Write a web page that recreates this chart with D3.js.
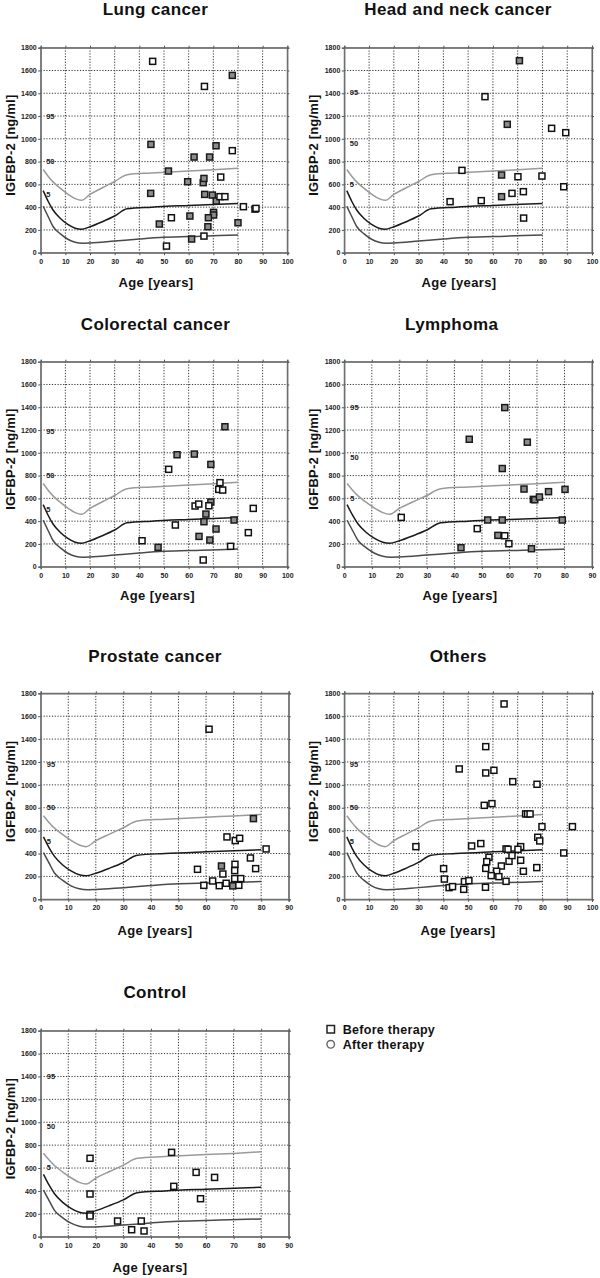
<!DOCTYPE html>
<html><head><meta charset="utf-8">
<script src="https://cdn.jsdelivr.net/npm/d3@7"></script>
<style>
html,body{margin:0;padding:0;background:#fff;}
svg{display:block;font-family:"Liberation Sans",Arial,sans-serif;}
</style></head>
<body><svg id="c" width="600" height="1278"></svg>
<script>
// ---------- data ----------
const yTicks = [0,200,400,600,800,1000,1200,1400,1600,1800];
const xTicks100 = [0,10,20,30,40,50,60,70,80,90,100];
const xTicks90 = [0,10,20,30,40,50,60,70,80,90];

// reference percentile curves [age, IGFBP-2]
const p95 = [[1,730],[3,672],[5,622],[8,565],[11,515],[14,475],[16.5,460],[20,512],[25,570],[30,625],[35,685],[45,700],[60,718],[70,728],[80,742]];
const p50 = [[1,545],[3,452],[5,375],[8,300],[11,248],[14,214],[16.5,205],[20,228],[25,272],[30,322],[35,385],[45,400],[60,415],[80,432]];
const p5  = [[1,408],[3,318],[5,230],[8,165],[11,118],[14,92],[17,84],[20,85],[30,102],[40,120],[50,135],[65,145],[80,155]];
const pctNames = ["95","50","5"];

// curve label heights per panel [95, 50, 5]
const lungLab = [1195,805,510];
const headLab = [1405,960,603];
const colorectalLab = [1185,800,503];
const lymphomaLab = [1400,957,600];
const prostateLab = [1183,801,504];
const othersLab = [1183,801,504];
const controlLab = [1401,961,603];

// observations [age, IGFBP-2 ng/ml]
const lungBefore = [[45.4,1680],[66.4,1460],[77.7,896],[73.0,664],[72.7,492],[74.7,492],[82.2,404],[86.9,383],[87.3,389],[53,307],[66.2,146],[51,58]];
const lungAfter = [[77.7,1557],[44.7,951],[71.1,939],[62.2,840],[68.5,840],[51.8,717],[59.6,623],[65.9,615],[66.2,652],[44.6,521],[66.5,512],[69.6,506],[71.2,454],[70.1,354],[70.1,331],[60.5,322],[68,307],[67.8,228],[48.1,252],[80,263],[61.2,120]];

const headBefore = [[47.5,723],[56.8,1370],[83.7,1092],[89.4,1054],[70.1,667],[79.8,673],[88.6,579],[67.7,521],[72.3,536],[42.7,448],[55.3,457],[72.4,304]];
const headAfter = [[70.7,1686],[65.8,1127],[63.5,682],[63.5,492]];

const colorectalBefore = [[51.9,855],[72.7,738],[72.2,679],[73.8,673],[62.6,533],[64.1,550],[68.2,535],[54.6,366],[86.2,512],[84.2,299],[41.1,228],[77,179],[65.9,59]];
const colorectalAfter = [[74.7,1229],[55.3,983],[62.3,989],[69,898],[69,568],[67,462],[66.2,395],[78.4,410],[71.1,331],[64.2,266],[68.6,234],[47.6,170]];

const lymphomaBefore = [[20.7,433],[48.3,334],[58.3,272],[59.8,202]];
const lymphomaAfter = [[58.3,1397],[45.4,1119],[66.5,1093],[57.4,862],[65.3,682],[68.7,591],[69.2,588],[70.9,612],[74.2,659],[80.2,679],[52.1,410],[57.4,410],[79.2,410],[55.8,275],[42.4,167],[68,158]];

const prostateBefore = [[61.1,1486],[67.6,545],[70.6,513],[72.2,533],[81.8,440],[76.1,361],[56.9,262],[78,268],[70.5,306],[70.4,251],[66.1,221],[70.4,181],[72.6,181],[62.4,160],[59.2,122],[64.8,119],[67.3,140],[71.9,122]];
const prostateAfter = [[77.2,705],[65.6,291],[69.7,117]];

const othersBefore = [[64.5,1707],[57.1,1334],[46.4,1139],[57.1,1104],[60.4,1127],[68,1028],[77.8,1005],[56.5,821],[59.6,836],[73.2,746],[74,746],[75,746],[79.8,635],[92.1,635],[78.1,542],[78.9,510],[28.9,460],[51.4,466],[55.1,487],[71.2,460],[70.1,437],[65.3,440],[66.1,437],[58.4,367],[57.5,329],[88.6,405],[71.2,341],[66.5,332],[67.7,382],[63.4,291],[40.1,268],[57.1,270],[72.3,245],[77.7,277],[61.5,245],[59.3,207],[62.4,198],[40.4,177],[48.5,155],[50.3,163],[65.3,157],[42.3,102],[43.7,111],[48.2,87],[57,105]];
const othersAfter = [];

const controlBefore = [[17.9,685],[17.9,373],[17.9,195],[17.9,181],[27.9,137],[33,61],[36.5,137],[37.5,50],[47.5,737],[48.3,440],[56.4,562],[58,332],[63.1,518]];
const controlAfter = [];

const legendLabels = ["Before therapy","After therapy"];

// ---------- layout ----------
const panels = [
  {title:"Lung cancer", before:lungBefore, after:lungAfter, lab:lungLab, xMax:100, xt:xTicks100,
   L:40.7, R:287.3, T:47.7, B:252.7, tx:155.5, ty:15, ax:156, ay:287},
  {title:"Head and neck cancer", before:headBefore, after:headAfter, lab:headLab, xMax:100, xt:xTicks100,
   L:344.3, R:592, T:47.7, B:252.7, tx:458, ty:15, ax:459, ay:287},
  {title:"Colorectal cancer", before:colorectalBefore, after:colorectalAfter, lab:colorectalLab, xMax:100, xt:xTicks100,
   L:40.7, R:287.3, T:361.7, B:566.7, tx:155.5, ty:330, ax:157.5, ay:600},
  {title:"Lymphoma", before:lymphomaBefore, after:lymphomaAfter, lab:lymphomaLab, xMax:90, xt:xTicks90,
   L:344.3, R:592, T:361.7, B:566.7, tx:451.7, ty:330, ax:460, ay:600},
  {title:"Prostate cancer", before:prostateBefore, after:prostateAfter, lab:prostateLab, xMax:90, xt:xTicks90,
   L:40.7, R:288.7, T:693.3, B:899.3, tx:155, ty:661.7, ax:155, ay:934.5},
  {title:"Others", before:othersBefore, after:othersAfter, lab:othersLab, xMax:100, xt:xTicks100,
   L:344.3, R:592, T:693.3, B:899.3, tx:458.3, ty:661.7, ax:458, ay:934.5},
  {title:"Control", before:controlBefore, after:controlAfter, lab:controlLab, xMax:90, xt:xTicks90,
   L:40.7, R:288.7, T:1030.7, B:1236.7, tx:155, ty:998.3, ax:150, ay:1272.3}
];

const svg = d3.select("#c");
const curves = [{d:p95, c:"#9a9a9a"},{d:p50, c:"#1a1a1a"},{d:p5, c:"#4a4a4a"}];
const fmt = d3.format("d");

panels.forEach(p => {
  const x = d3.scaleLinear().domain([0,p.xMax]).range([p.L,p.R]);
  const y = d3.scaleLinear().domain([0,1800]).range([p.B,p.T]);
  const g = svg.append("g");

  // title
  g.append("text").attr("x",p.tx).attr("y",p.ty).attr("text-anchor","middle")
    .attr("font-size",17).attr("font-weight","bold").attr("letter-spacing",0.4).attr("fill","#111").text(p.title);

  // grid
  g.append("g").selectAll("line").data(p.xt.slice(1,-1)).join("line")
    .attr("x1",d=>x(d)).attr("x2",d=>x(d)).attr("y1",p.T).attr("y2",p.B)
    .attr("stroke","#333").attr("stroke-width",1).attr("stroke-dasharray","1.2,1.6");
  g.append("g").selectAll("line").data(yTicks.slice(1,-1)).join("line")
    .attr("y1",d=>y(d)).attr("y2",d=>y(d)).attr("x1",p.L).attr("x2",p.R)
    .attr("stroke","#333").attr("stroke-width",1).attr("stroke-dasharray","1.2,1.6");

  // frame
  g.append("rect").attr("x",p.L).attr("y",p.T).attr("width",p.R-p.L).attr("height",p.B-p.T)
    .attr("fill","none").attr("stroke","#888").attr("stroke-width",1.2);

  // axes
  const ax = g.append("g").attr("transform",`translate(0,${p.B})`)
    .call(d3.axisBottom(x).tickValues(p.xt).tickFormat(fmt).tickSize(2.5).tickPadding(3.5));
  const ay = g.append("g").attr("transform",`translate(${p.L},0)`)
    .call(d3.axisLeft(y).tickValues(yTicks).tickFormat(fmt).tickSize(2.5).tickPadding(1.5));
  g.append("g").attr("transform",`translate(0,${p.T})`)
    .call(d3.axisTop(x).tickValues(p.xt).tickSize(2).tickFormat(""));
  g.append("g").attr("transform",`translate(${p.R},0)`)
    .call(d3.axisRight(y).tickValues(yTicks).tickSize(2).tickFormat(""));
  g.selectAll(".domain").attr("stroke","#666").attr("stroke-width",1.2);
  g.selectAll(".tick line").attr("stroke","#555");
  [ax,ay].forEach(a=>a.selectAll("text").attr("font-size",7).attr("font-weight","bold")
    .attr("fill","#222").attr("font-family","'Liberation Sans',Arial,sans-serif"));

  // axis titles
  g.append("text").attr("transform",`translate(${p.L-26},${(p.T+p.B)/2-5}) rotate(-90)`)
    .attr("text-anchor","middle").attr("font-size",13).attr("font-weight","bold").attr("letter-spacing",0.2)
    .attr("fill","#111").text("IGFBP-2 [ng/ml]");
  g.append("text").attr("x",p.ax).attr("y",p.ay).attr("text-anchor","middle")
    .attr("font-size",13).attr("font-weight","bold").attr("letter-spacing",0.4)
    .attr("fill","#111").text("Age [years]");

  // percentile curves
  const line = d3.line().x(d=>x(d[0])).y(d=>y(d[1])).curve(d3.curveMonotoneX);
  curves.forEach(c => g.append("path").attr("d",line(c.d)).attr("fill","none")
    .attr("stroke",c.c).attr("stroke-width",1.5));
  g.append("g").selectAll("text").data(pctNames).join("text")
    .attr("x",x(2.2)).attr("y",(d,i)=>y(p.lab[i])).attr("dy","0.35em")
    .attr("font-size",7.5).attr("font-weight","bold").attr("fill","#222").text(d=>d);

  // markers
  const s = 6;
  g.append("g").selectAll("rect").data(p.after).join("rect")
    .attr("x",d=>x(d[0])-s/2).attr("y",d=>y(d[1])-s/2).attr("width",s).attr("height",s)
    .attr("fill","#8c8c8c").attr("stroke","#1a1a1a").attr("stroke-width",1.5);
  g.append("g").selectAll("rect").data(p.before).join("rect")
    .attr("x",d=>x(d[0])-s/2).attr("y",d=>y(d[1])-s/2).attr("width",s).attr("height",s)
    .attr("fill","#fff").attr("stroke","#111").attr("stroke-width",1.5);
});

// legend
const lg = svg.append("g");
lg.append("rect").attr("x",327).attr("y",1025.5).attr("width",7.5).attr("height",7.5)
  .attr("fill","#fff").attr("stroke","#222").attr("stroke-width",1.5);
lg.append("circle").attr("cx",330.7).attr("cy",1044.3).attr("r",3.8)
  .attr("fill","#fff").attr("stroke","#666").attr("stroke-width",1.4);
lg.selectAll("text").data(legendLabels).join("text")
  .attr("x",342.7).attr("y",(d,i)=>1029.3+i*15).attr("dy","0.36em")
  .attr("font-size",12.5).attr("font-weight","bold").attr("letter-spacing",0.3).attr("fill","#111").text(d=>d);
</script></body></html>
